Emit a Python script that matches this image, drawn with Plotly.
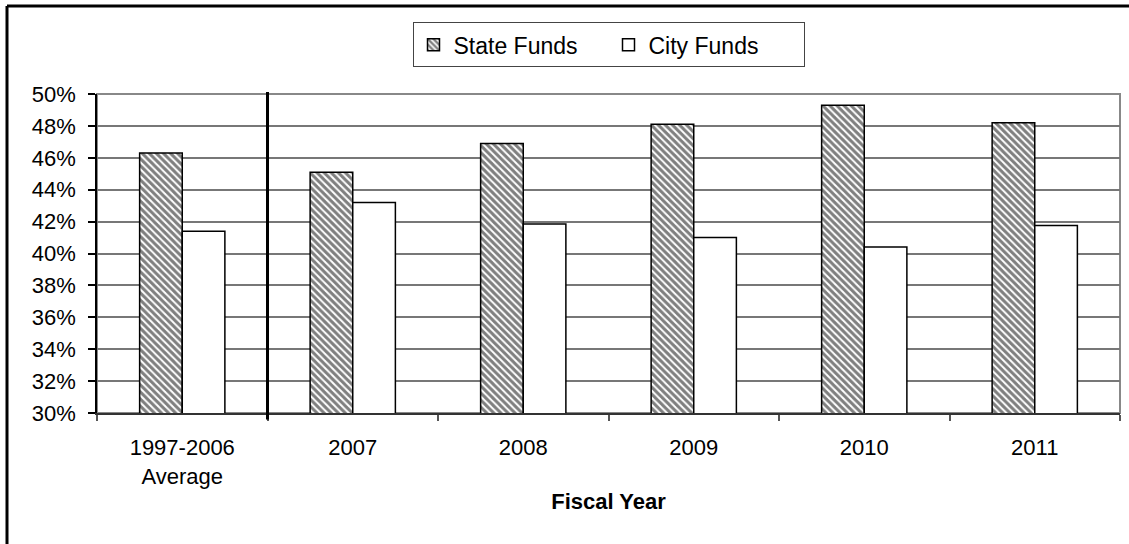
import plotly.graph_objects as go

# Share of funding by source, per fiscal year (percent)
categories = ["1997-2006<br>Average", "2007", "2008", "2009", "2010", "2011"]
state_funds = [46.3, 45.1, 46.9, 48.1, 49.3, 48.2]
city_funds = [41.4, 43.2, 41.85, 41.0, 40.4, 41.75]
y_ticks = [30, 32, 34, 36, 38, 40, 42, 44, 46, 48, 50]
y_tick_text = [f"{v}%" for v in y_ticks]

FONT = "Liberation Sans, Arial, sans-serif"

fig = go.Figure()
fig.add_trace(go.Bar(
    name="State Funds", x=categories, y=state_funds,
    marker=dict(color="white", line=dict(color="black", width=1.5),
                pattern=dict(shape="\\", fgcolor="black", bgcolor="white",
                             size=5, solidity=0.6, fillmode="overlay")),
))
fig.add_trace(go.Bar(
    name="City Funds", x=categories, y=city_funds,
    marker=dict(color="white", line=dict(color="black", width=1.5)),
))

fig.update_layout(
    width=1129, height=544,
    margin=dict(l=97, r=9, t=94, b=131),
    paper_bgcolor="white", plot_bgcolor="white",
    font=dict(family=FONT, size=22, color="black"),
    barmode="group", bargap=0.5, bargroupgap=0,
    showlegend=True,
    legend=dict(orientation="h", x=0.5, xanchor="center", y=1.225, yanchor="top",
                bordercolor="#444", borderwidth=1, bgcolor="white",
                font=dict(size=23), itemwidth=30, traceorder="normal",
                entrywidth=150, entrywidthmode="pixels"),
    xaxis=dict(
        type="category", range=[-0.5, 5.5],
        showline=True, linecolor="#333", linewidth=1.5,
        ticks="outside", tickson="boundaries", ticklen=6, tickcolor="#555", tickwidth=1.5,
        showgrid=False, tickfont=dict(size=22), ticklabelstandoff=14,
        title=dict(text="<b>Fiscal Year</b>", font=dict(size=22), standoff=6),
    ),
    yaxis=dict(
        range=[30, 50], tickvals=y_ticks, ticktext=y_tick_text,
        showline=True, linecolor="black", linewidth=1.5,
        ticks="outside", ticklen=7, tickcolor="black", tickwidth=1.5,
        showgrid=True, gridcolor="#777", gridwidth=1.5,
        ticklabelstandoff=8, tickfont=dict(size=22), zeroline=False,
    ),
    shapes=[
        # plot-area frame
        dict(type="rect", xref="paper", yref="paper", x0=0, x1=1, y0=0, y1=1,
             line=dict(color="#888", width=2), layer="below"),
        # separator between the average and the yearly bars
        dict(type="line", xref="paper", yref="paper", x0=1/6, x1=1/6,
             y0=-0.02, y1=1.006, line=dict(color="black", width=3), layer="above"),
        # outer chart border (top and left)
        dict(type="line", xref="paper", yref="paper", x0=-90/1023, x1=1.02,
             y0=(413 - 6) / 319, y1=(413 - 6) / 319, line=dict(color="black", width=3)),
        dict(type="line", xref="paper", yref="paper", x0=-90/1023, x1=-90/1023,
             y0=-0.5, y1=(413 - 6) / 319, line=dict(color="black", width=3)),
    ],
)

fig.write_html("out.html")
